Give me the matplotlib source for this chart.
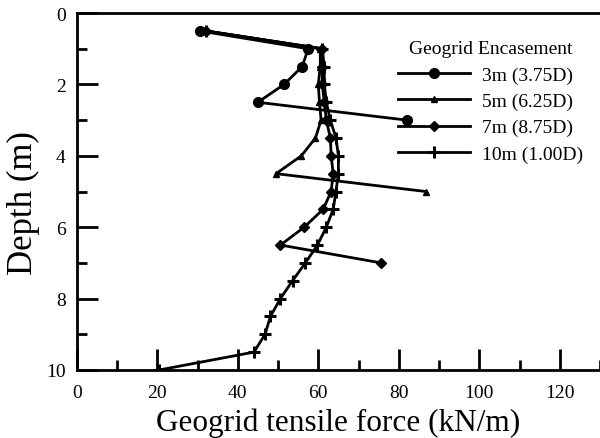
import matplotlib
matplotlib.use("Agg")
import matplotlib.pyplot as plt
from matplotlib.ticker import MultipleLocator

plt.rcParams['font.family'] = ['Liberation Serif', 'DejaVu Serif']

# depth (m) and tensile force (kN/m) per encasement length
depth_3m = [0.5, 1.0, 1.5, 2.0, 2.5, 3.0]
force_3m = [30.5, 57.5, 56, 51.5, 45, 82]

depth_5m = [0.5, 1.0, 1.5, 2.0, 2.5, 3.0, 3.5, 4.0, 4.5, 5.0]
force_5m = [32, 60.5, 60.5, 60, 60.3, 60.7, 59.3, 55.8, 49.5, 86.7]

depth_7m = [0.5, 1.0, 1.5, 2.0, 2.5, 3.0, 3.5, 4.0, 4.5, 5.0, 5.5, 6.0, 6.5, 7.0]
force_7m = [32, 61, 61, 61, 61.5, 62, 63, 63.2, 63.7, 63.2, 61.2, 56.5, 50.6, 75.6]

depth_10m = [0.5, 1.0, 1.5, 2.0, 2.5, 3.0, 3.5, 4.0, 4.5, 5.0, 5.5, 6.0, 6.5,
             7.0, 7.5, 8.0, 8.5, 9.0, 9.5, 10.0]
force_10m = [32, 61, 61.5, 61.5, 62, 63, 64.4, 65, 65, 64.4, 63.7, 62, 59.8,
             56.8, 53.6, 50.6, 48.1, 46.8, 44, 20.5]

labels = ["3m (3.75D)", "5m (6.25D)", "7m (8.75D)", "10m (1.00D)"]

fig = plt.figure(figsize=(6, 4.39), dpi=100)
ax = fig.add_axes([0.128, 0.155, 0.872, 0.813])

lw = 2.0
ax.plot(force_3m, depth_3m, color="black", lw=lw, marker="o", ms=7, label=labels[0])
ax.plot(force_5m, depth_5m, color="black", lw=lw, marker="^", ms=5, label=labels[1])
ax.plot(force_7m, depth_7m, color="black", lw=lw, marker="D", ms=5.5, label=labels[2])
ax.plot(force_10m, depth_10m, color="black", lw=lw, marker="+", ms=9, mew=2.2, label=labels[3])

ax.set_xlim(0, 130)
ax.set_ylim(10, 0)
ax.xaxis.set_major_locator(MultipleLocator(20))
ax.xaxis.set_minor_locator(MultipleLocator(10))
ax.yaxis.set_major_locator(MultipleLocator(2))
ax.yaxis.set_minor_locator(MultipleLocator(1))
ax.tick_params(which="both", direction="in", top=False, right=False, width=2, labelsize=14)
ax.tick_params(which="major", length=15)
ax.tick_params(which="minor", length=7)
ax.tick_params(axis="y", pad=8)
ax.tick_params(axis="x", pad=10)
for s in ["left", "bottom", "top"]:
    ax.spines[s].set_linewidth(2)
ax.spines["right"].set_visible(False)

ax.set_xlabel("Geogrid tensile force (kN/m)", fontsize=22.5, labelpad=5)
ax.set_ylabel("Depth (m)", fontsize=25)
ax.yaxis.set_label_coords(-0.07, 0.47)

leg = ax.legend(title="Geogrid Encasement", frameon=False, loc="upper right",
                bbox_to_anchor=(0.993, 0.962), fontsize=14, title_fontsize=14,
                handlelength=3.7, labelspacing=0.45, borderaxespad=0.3,
                handletextpad=0.6)

fig.savefig("out.png", dpi=100)
